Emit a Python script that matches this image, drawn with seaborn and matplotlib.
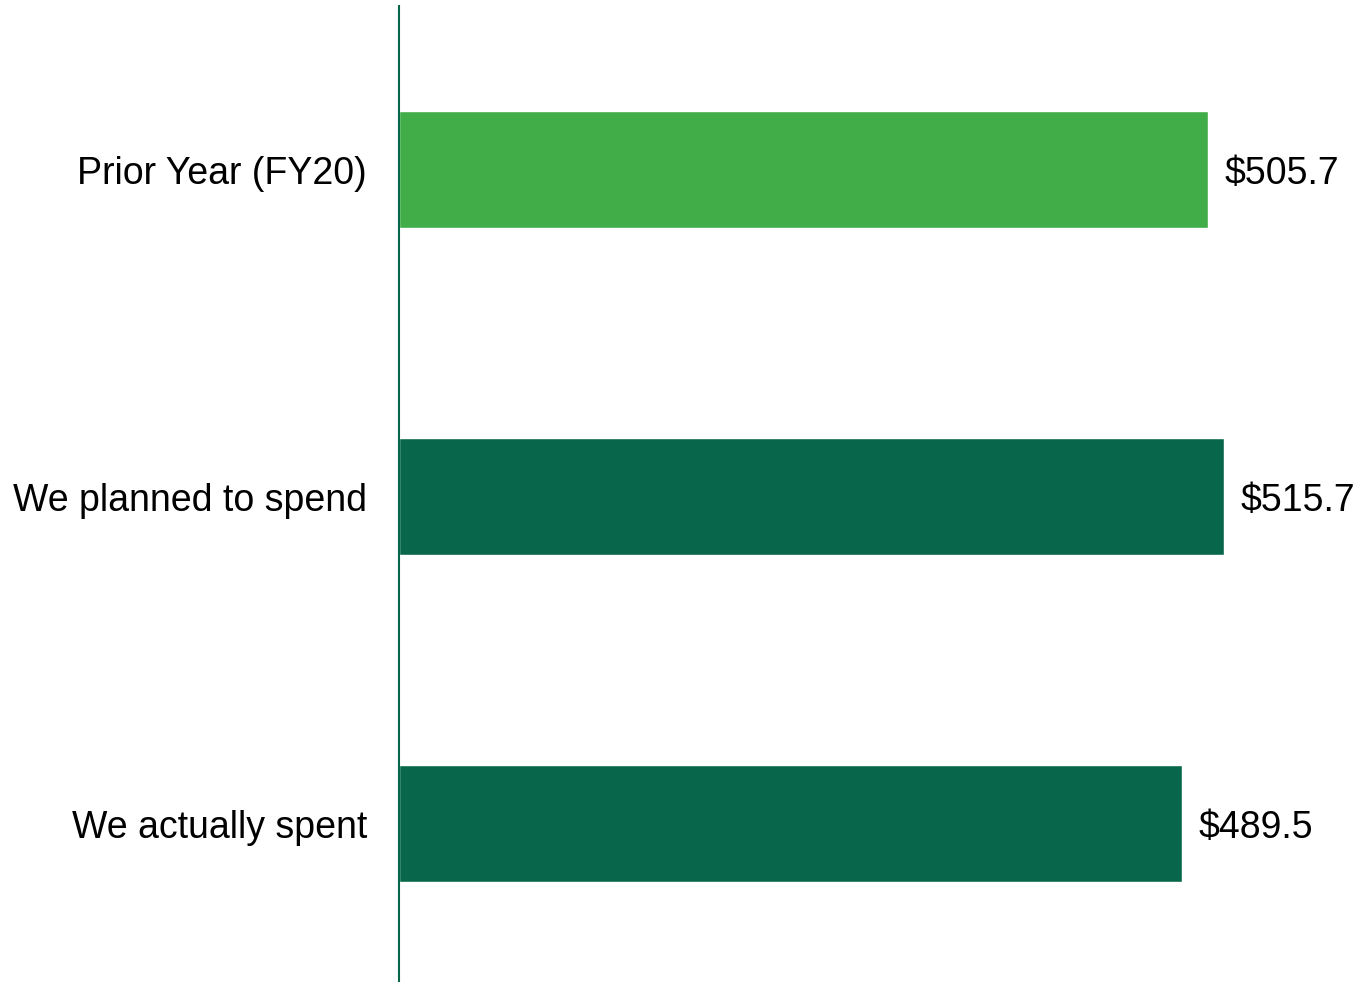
import matplotlib
matplotlib.use("Agg")
import matplotlib.pyplot as plt
import seaborn as sns
import pandas as pd

categories = ["Prior Year (FY20)", "We planned to spend", "We actually spent"]
values = [505.7, 515.7, 489.5]
value_labels = ["$505.7", "$515.7", "$489.5"]
colors = ["#41AD49", "#08674A", "#08674A"]

sns.set_theme(style="white")
plt.rcParams["font.family"] = ["Liberation Sans", "DejaVu Sans"]

df = pd.DataFrame({"category": categories, "value": values})

fig = plt.figure(figsize=(13.59, 9.82), dpi=100)
ax = fig.add_axes([399 / 1359, -5 / 982, (1359 - 399) / 1359, 981 / 982])

sns.barplot(data=df, y="category", x="value", hue="category", palette=colors,
            orient="h", width=0.355, legend=False, ax=ax, saturation=1)

ax.set_xlim(0, 600)
ax.set_ylim(2.5, -0.5)
for i, (v, lab) in enumerate(zip(values, value_labels)):
    ax.text(v + 10, i, lab, va="center_baseline", ha="left", fontsize=27, color="black")

for s in ["top", "right", "bottom"]:
    ax.spines[s].set_visible(False)
ax.spines["left"].set_color("#08674A")
ax.spines["left"].set_linewidth(1.5)
ax.set_xticks([])
ax.set_xlabel("")
ax.set_ylabel("")
ax.tick_params(axis="y", length=0, pad=23, labelsize=27, labelcolor="black")

fig.savefig("out.png", dpi=100)
